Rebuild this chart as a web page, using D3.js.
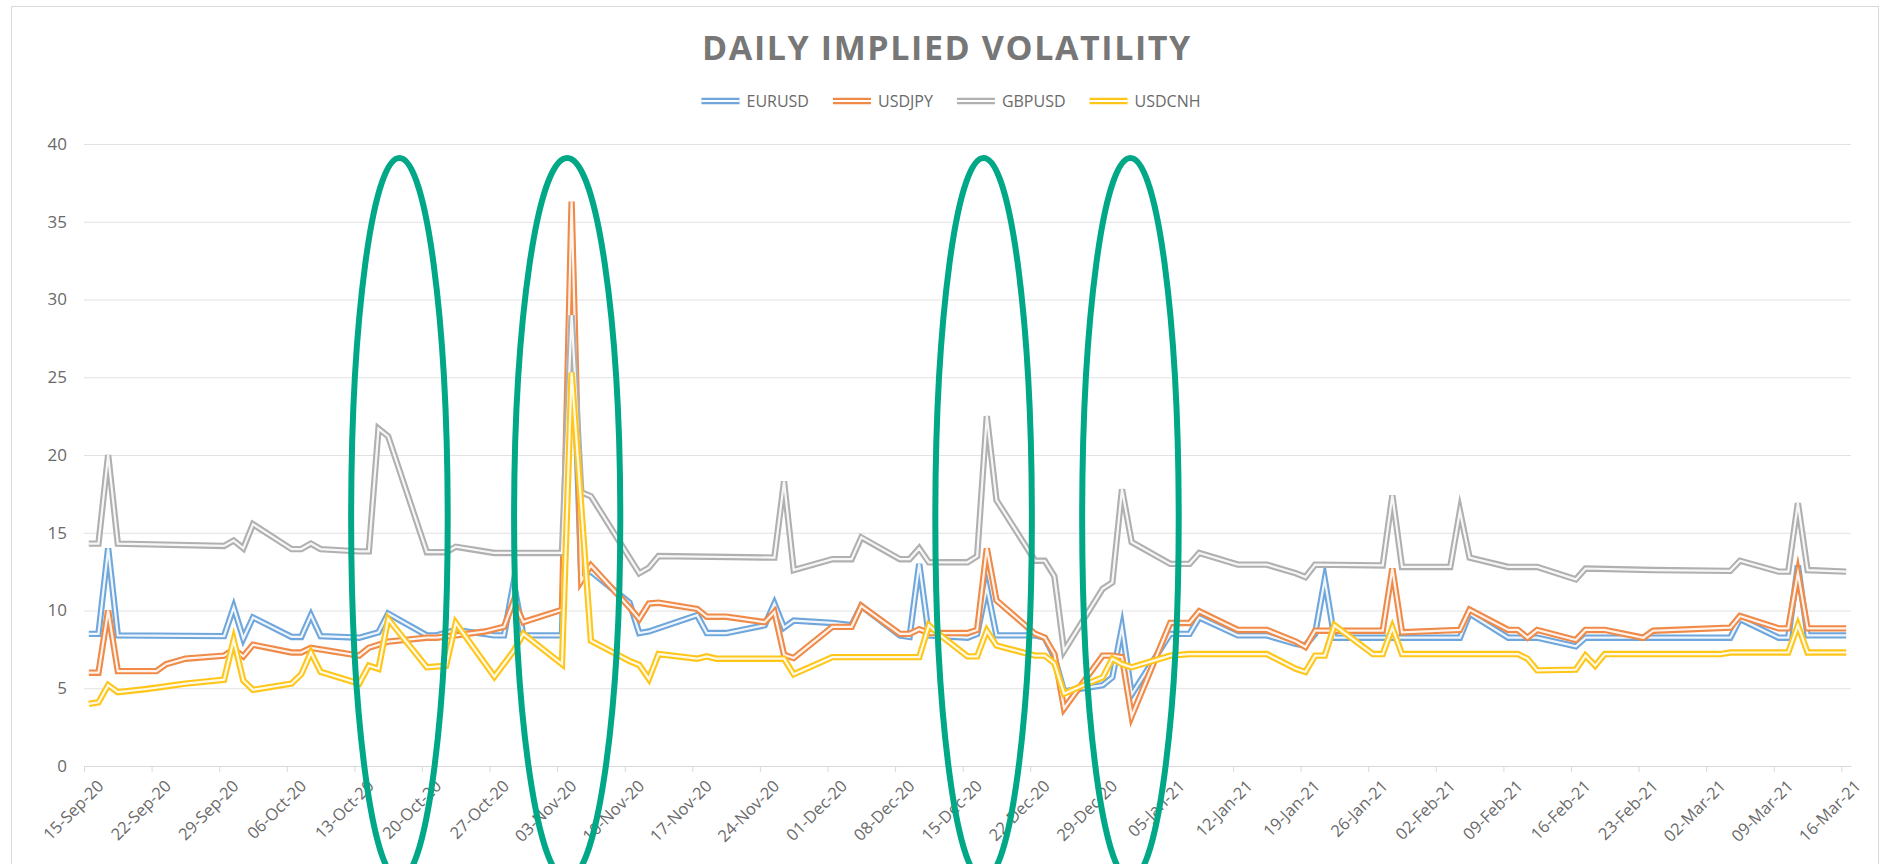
<html>

<head>
  <title>Daily Implied Volatility</title>
  <script src="https://d3js.org/d3.v7.min.js"></script>

  <style>
    body {
      margin: 0;
      background: #fff;
    }

    text {
      font-family: "Open Sans", sans-serif;
      fill: #6a6a6a;
    }

    .gridlines line {
      stroke: #e2e2e2;
    }

    .gridlines .domain {
      stroke: none;
    }

    .x.axis .domain,
    .x.axis line {
      stroke: #d9d9d9;
    }

    .y.axis .domain {
      stroke: none;
    }

    .frame {
      fill: none;
      stroke: #d9d9d9;
    }

    .ring {
      fill: none;
      stroke: #00a887;
      stroke-width: 6;
    }
  </style>
</head>

<body>
  <svg id="chart" width="1889" height="864"></svg>

  <script>
    // series: [date, implied vol]
    const eurusd = [
      ["15-Sep-20", 8.5], ["16-Sep-20", 8.5], ["17-Sep-20", 14.0], ["18-Sep-20", 8.4], ["29-Sep-20", 8.35],
      ["30-Sep-20", 10.2], ["01-Oct-20", 8.2], ["02-Oct-20", 9.55], ["06-Oct-20", 8.3], ["07-Oct-20", 8.3],
      ["08-Oct-20", 9.7], ["09-Oct-20", 8.35], ["13-Oct-20", 8.25], ["15-Oct-20", 8.6], ["16-Oct-20", 9.8],
      ["20-Oct-20", 8.4], ["21-Oct-20", 8.4], ["23-Oct-20", 8.75], ["27-Oct-20", 8.4], ["28-Oct-20", 8.4],
      ["29-Oct-20", 11.8], ["30-Oct-20", 8.4], ["03-Nov-20", 8.4], ["04-Nov-20", 30.0], ["05-Nov-20", 12.25],
      ["06-Nov-20", 12.5], ["10-Nov-20", 10.5], ["11-Nov-20", 8.55], ["12-Nov-20", 8.65], ["17-Nov-20", 9.7],
      ["18-Nov-20", 8.55], ["20-Nov-20", 8.55], ["24-Nov-20", 9.05], ["25-Nov-20", 10.45], ["26-Nov-20", 8.9],
      ["27-Nov-20", 9.35], ["01-Dec-20", 9.2], ["03-Dec-20", 9.05], ["04-Dec-20", 10.3], ["08-Dec-20", 8.4],
      ["09-Dec-20", 8.3], ["10-Dec-20", 13.0], ["11-Dec-20", 8.4], ["15-Dec-20", 8.25], ["16-Dec-20", 8.5],
      ["17-Dec-20", 11.5], ["18-Dec-20", 8.4], ["22-Dec-20", 8.4], ["23-Dec-20", 8.25], ["24-Dec-20", 7.0],
      ["25-Dec-20", 4.8], ["29-Dec-20", 5.2], ["30-Dec-20", 5.7], ["31-Dec-20", 8.9], ["01-Jan-21", 4.6],
      ["05-Jan-21", 8.5], ["07-Jan-21", 8.5], ["08-Jan-21", 9.55], ["12-Jan-21", 8.4], ["15-Jan-21", 8.4],
      ["18-Jan-21", 7.85], ["19-Jan-21", 7.75], ["20-Jan-21", 8.5], ["21-Jan-21", 12.0], ["22-Jan-21", 8.25],
      ["04-Feb-21", 8.25], ["05-Feb-21", 9.8], ["09-Feb-21", 8.25], ["12-Feb-21", 8.25], ["16-Feb-21", 7.7],
      ["17-Feb-21", 8.25], ["04-Mar-21", 8.25], ["05-Mar-21", 9.45], ["09-Mar-21", 8.25], ["10-Mar-21", 8.25],
      ["11-Mar-21", 12.9], ["12-Mar-21", 8.4], ["16-Mar-21", 8.4]
    ];

    const usdjpy = [
      ["15-Sep-20", 6.0], ["16-Sep-20", 6.0], ["17-Sep-20", 10.0], ["18-Sep-20", 6.1], ["22-Sep-20", 6.1],
      ["23-Sep-20", 6.55], ["25-Sep-20", 6.9], ["29-Sep-20", 7.1], ["30-Sep-20", 7.5], ["01-Oct-20", 7.05],
      ["02-Oct-20", 7.8], ["06-Oct-20", 7.3], ["07-Oct-20", 7.3], ["08-Oct-20", 7.6], ["13-Oct-20", 7.1],
      ["14-Oct-20", 7.6], ["16-Oct-20", 8.0], ["20-Oct-20", 8.25], ["21-Oct-20", 8.25], ["23-Oct-20", 8.4],
      ["26-Oct-20", 8.65], ["28-Oct-20", 8.95], ["29-Oct-20", 10.6], ["30-Oct-20", 9.25], ["03-Nov-20", 10.05],
      ["04-Nov-20", 36.3], ["05-Nov-20", 11.9], ["06-Nov-20", 12.9], ["10-Nov-20", 10.2], ["11-Nov-20", 9.45],
      ["12-Nov-20", 10.45], ["13-Nov-20", 10.5], ["17-Nov-20", 10.1], ["18-Nov-20", 9.6], ["20-Nov-20", 9.6],
      ["24-Nov-20", 9.25], ["25-Nov-20", 9.9], ["26-Nov-20", 7.15], ["27-Nov-20", 6.95], ["01-Dec-20", 8.95],
      ["03-Dec-20", 8.95], ["04-Dec-20", 10.3], ["08-Dec-20", 8.5], ["09-Dec-20", 8.5], ["10-Dec-20", 8.8],
      ["11-Dec-20", 8.55], ["15-Dec-20", 8.55], ["16-Dec-20", 8.75], ["17-Dec-20", 14.0], ["18-Dec-20", 10.65],
      ["22-Dec-20", 8.5], ["23-Dec-20", 8.25], ["24-Dec-20", 7.2], ["25-Dec-20", 3.7], ["29-Dec-20", 7.1],
      ["30-Dec-20", 7.1], ["31-Dec-20", 7.0], ["01-Jan-21", 3.2], ["05-Jan-21", 9.2], ["07-Jan-21", 9.2],
      ["08-Jan-21", 9.95], ["12-Jan-21", 8.75], ["15-Jan-21", 8.75], ["18-Jan-21", 8.0], ["19-Jan-21", 7.65],
      ["20-Jan-21", 8.7], ["27-Jan-21", 8.7], ["28-Jan-21", 12.7], ["29-Jan-21", 8.6], ["04-Feb-21", 8.75],
      ["05-Feb-21", 10.05], ["09-Feb-21", 8.75], ["10-Feb-21", 8.75], ["11-Feb-21", 8.25], ["12-Feb-21", 8.75],
      ["16-Feb-21", 8.1], ["17-Feb-21", 8.75], ["19-Feb-21", 8.75], ["23-Feb-21", 8.25], ["24-Feb-21", 8.7],
      ["04-Mar-21", 8.9], ["05-Mar-21", 9.65], ["09-Mar-21", 8.85], ["10-Mar-21", 8.85], ["11-Mar-21", 12.4],
      ["12-Mar-21", 8.85], ["16-Mar-21", 8.85]
    ];

    const gbpusd = [
      ["15-Sep-20", 14.3], ["16-Sep-20", 14.3], ["17-Sep-20", 20.0], ["18-Sep-20", 14.3], ["29-Sep-20", 14.15],
      ["30-Sep-20", 14.5], ["01-Oct-20", 14.0], ["02-Oct-20", 15.55], ["06-Oct-20", 13.95], ["07-Oct-20", 13.95],
      ["08-Oct-20", 14.3], ["09-Oct-20", 13.95], ["13-Oct-20", 13.8], ["14-Oct-20", 13.8], ["15-Oct-20", 21.7],
      ["16-Oct-20", 21.2], ["20-Oct-20", 13.75], ["22-Oct-20", 13.75], ["23-Oct-20", 14.1], ["27-Oct-20", 13.7],
      ["03-Nov-20", 13.7], ["04-Nov-20", 29.0], ["05-Nov-20", 17.6], ["06-Nov-20", 17.35], ["11-Nov-20", 12.4],
      ["12-Nov-20", 12.75], ["13-Nov-20", 13.5], ["25-Nov-20", 13.4], ["26-Nov-20", 18.3], ["27-Nov-20", 12.6],
      ["01-Dec-20", 13.3], ["03-Dec-20", 13.3], ["04-Dec-20", 14.7], ["08-Dec-20", 13.3], ["09-Dec-20", 13.3],
      ["10-Dec-20", 14.0], ["11-Dec-20", 13.1], ["15-Dec-20", 13.1], ["16-Dec-20", 13.5], ["17-Dec-20", 22.5],
      ["18-Dec-20", 17.1], ["22-Dec-20", 13.2], ["23-Dec-20", 13.2], ["24-Dec-20", 12.2], ["25-Dec-20", 7.4],
      ["29-Dec-20", 11.4], ["30-Dec-20", 11.8], ["31-Dec-20", 17.8], ["01-Jan-21", 14.4], ["05-Jan-21", 13.0],
      ["07-Jan-21", 13.0], ["08-Jan-21", 13.7], ["12-Jan-21", 12.95], ["15-Jan-21", 12.95], ["18-Jan-21", 12.4],
      ["19-Jan-21", 12.15], ["20-Jan-21", 12.95], ["27-Jan-21", 12.9], ["28-Jan-21", 17.4], ["29-Jan-21", 12.8],
      ["03-Feb-21", 12.8], ["04-Feb-21", 16.4], ["05-Feb-21", 13.4], ["09-Feb-21", 12.8], ["12-Feb-21", 12.8],
      ["16-Feb-21", 12.0], ["17-Feb-21", 12.7], ["24-Feb-21", 12.6], ["04-Mar-21", 12.55], ["05-Mar-21", 13.2],
      ["09-Mar-21", 12.5], ["10-Mar-21", 12.5], ["11-Mar-21", 16.9], ["12-Mar-21", 12.6], ["16-Mar-21", 12.5]
    ];

    const usdcnh = [
      ["15-Sep-20", 4.0], ["16-Sep-20", 4.1], ["17-Sep-20", 5.2], ["18-Sep-20", 4.75], ["21-Sep-20", 4.95],
      ["25-Sep-20", 5.3], ["29-Sep-20", 5.55], ["30-Sep-20", 8.1], ["01-Oct-20", 5.5], ["02-Oct-20", 4.9],
      ["06-Oct-20", 5.3], ["07-Oct-20", 5.9], ["08-Oct-20", 7.3], ["09-Oct-20", 6.05], ["13-Oct-20", 5.3],
      ["14-Oct-20", 6.45], ["15-Oct-20", 6.25], ["16-Oct-20", 9.45], ["20-Oct-20", 6.35], ["22-Oct-20", 6.45],
      ["23-Oct-20", 9.2], ["27-Oct-20", 5.75], ["29-Oct-20", 7.4], ["30-Oct-20", 8.5], ["03-Nov-20", 6.55],
      ["04-Nov-20", 25.3], ["06-Nov-20", 8.05], ["10-Nov-20", 6.75], ["11-Nov-20", 6.5], ["12-Nov-20", 5.6],
      ["13-Nov-20", 7.2], ["17-Nov-20", 6.9], ["18-Nov-20", 7.05], ["19-Nov-20", 6.9], ["26-Nov-20", 6.9],
      ["27-Nov-20", 5.9], ["01-Dec-20", 7.0], ["10-Dec-20", 7.0], ["11-Dec-20", 9.05], ["12-Dec-20", 8.5],
      ["15-Dec-20", 7.05], ["16-Dec-20", 7.05], ["17-Dec-20", 8.7], ["18-Dec-20", 7.75], ["22-Dec-20", 7.1],
      ["23-Dec-20", 7.1], ["24-Dec-20", 6.6], ["25-Dec-20", 4.65], ["27-Dec-20", 5.2], ["29-Dec-20", 5.7],
      ["30-Dec-20", 6.9], ["31-Dec-20", 6.55], ["01-Jan-21", 6.35], ["05-Jan-21", 7.1], ["07-Jan-21", 7.2],
      ["15-Jan-21", 7.2], ["18-Jan-21", 6.25], ["19-Jan-21", 6.05], ["20-Jan-21", 7.1], ["21-Jan-21", 7.1],
      ["22-Jan-21", 9.05], ["26-Jan-21", 7.2], ["27-Jan-21", 7.2], ["28-Jan-21", 8.9], ["29-Jan-21", 7.2],
      ["10-Feb-21", 7.2], ["11-Feb-21", 6.9], ["12-Feb-21", 6.15], ["16-Feb-21", 6.2], ["17-Feb-21", 7.1],
      ["18-Feb-21", 6.45], ["19-Feb-21", 7.2], ["03-Mar-21", 7.2], ["04-Mar-21", 7.3], ["10-Mar-21", 7.3],
      ["11-Mar-21", 9.05], ["12-Mar-21", 7.3], ["16-Mar-21", 7.3]
    ];

    const seriesNames = ["EURUSD", "USDJPY", "GBPUSD", "USDCNH"];
    const seriesColors = ["#6fa7dc", "#ef8a48", "#b0b0b0", "#ffc61a"];
    const seriesData = [eurusd, usdjpy, gbpusd, usdcnh];

    const yTicks = [0, 5, 10, 15, 20, 25, 30, 35, 40];
    const dateRange = ["15-Sep-20", "17-Mar-21"];

    // highlighted event windows (centre stamp, half width in days)
    const ringCentres = ["17-Oct-20 16:00", "04-Nov-20 01:00", "17-Dec-20 04:00", "01-Jan-21 09:00"];
    const ringHalfDays = [5.0, 5.5, 5.0, 5.0];
    const ringSpan = [39.1, -7.3];

    const titleText = "DAILY IMPLIED VOLATILITY";

    //select the svg, set up margins
    const svg = d3.select("svg#chart");
    const width = +svg.attr("width");
    const height = +svg.attr("height");
    const margin = { top: 144, right: 38, bottom: 98, left: 84 };
    const chartWidth = width - margin.left - margin.right;
    const chartHeight = height - margin.top - margin.bottom;
    const centreX = 947;

    const parseDate = d3.timeParse("%d-%b-%y");
    const parseStamp = d3.timeParse("%d-%b-%y %H:%M");

    // outer chart frame
    svg.append("rect").attr("class", "frame")
      .attr("x", 11.5).attr("y", 6.5)
      .attr("width", width - 11 - margin.right + 27).attr("height", height + 20);

    let annotations = svg.append("g").attr("id", "annotations");
    let chartArea = svg.append("g").attr("id", "lines")
      .attr("transform", `translate(${margin.left},${margin.top})`);

    const xScale = d3.scaleTime().domain(dateRange.map(parseDate)).range([0, chartWidth]);
    const yScale = d3.scaleLinear().domain([0, 40]).range([chartHeight, 0]);

    // gridlines + y labels
    let leftGridlines = d3.axisLeft(yScale).tickValues(yTicks).tickSize(-chartWidth).tickFormat("");
    annotations.append("g")
      .attr("class", "y gridlines")
      .attr("transform", `translate(${margin.left},${margin.top})`)
      .call(leftGridlines);

    let leftAxis = d3.axisLeft(yScale).tickValues(yTicks).tickSize(0).tickPadding(17);
    annotations.append("g")
      .attr("class", "y axis")
      .attr("transform", `translate(${margin.left},${margin.top})`)
      .call(leftAxis)
      .selectAll("text").style("font-size", "17px");

    // weekly ticks on Tuesdays
    const weekTicks = d3.timeTuesday.range(xScale.domain()[0], xScale.domain()[1]);
    let bottomAxis = d3.axisBottom(xScale).tickValues(weekTicks)
      .tickFormat(d3.timeFormat("%d-%b-%y")).tickSizeInner(6).tickSizeOuter(0);
    annotations.append("g")
      .attr("class", "x axis")
      .attr("transform", `translate(${margin.left},${margin.top + chartHeight})`)
      .call(bottomAxis)
      .selectAll("text")
      .style("font-size", "16.5px")
      .attr("text-anchor", "end")
      .attr("x", 0).attr("y", 0).attr("dy", "0.35em")
      .attr("transform", "translate(16,17) rotate(-45)");

    // lines: points sit in the middle of their day slot, Excel style
    const line = d3.line()
      .x(d => xScale(d3.timeHour.offset(parseDate(d[0]), 12)))
      .y(d => yScale(d[1]));

    seriesData.forEach((data, i) => {
      let g = chartArea.append("g").attr("class", "series");
      g.append("path")
        .attr("d", line(data))
        .attr("fill", "none")
        .attr("stroke", seriesColors[i])
        .attr("stroke-width", 6.4)
        .attr("stroke-linejoin", "miter")
        .attr("stroke-miterlimit", 6);
      g.append("path")
        .attr("d", line(data))
        .attr("fill", "none")
        .attr("stroke", "#fff")
        .attr("stroke-width", 2.2)
        .attr("stroke-opacity", 0.9)
        .attr("stroke-linejoin", "miter")
        .attr("stroke-miterlimit", 6);
    });

    // title
    svg.append("text")
      .attr("x", centreX).attr("y", 60)
      .attr("text-anchor", "middle")
      .style("font-size", "34px").style("font-weight", "700")
      .style("letter-spacing", "1.6px")
      .style("fill", "#777")
      .text(titleText);

    // legend, laid out from measured text widths
    const legend = svg.append("g").attr("id", "legend");
    const swatch = 38, swatchGap = 7, itemGap = 24;
    let items = seriesNames.map((name, i) => {
      let g = legend.append("g");
      let t = g.append("text").attr("x", swatch + swatchGap).attr("y", 0).attr("dy", "0.35em")
        .style("font-size", "16px").text(name);
      return { g: g, w: swatch + swatchGap + t.node().getComputedTextLength(), i: i };
    });
    let total = d3.sum(items, d => d.w) + itemGap * (items.length - 1);
    let cursor = centreX + 4 - total / 2;
    items.forEach(d => {
      d.g.attr("transform", `translate(${cursor},101)`);
      d.g.insert("line", "text").attr("x1", 0).attr("x2", swatch).attr("y1", 0).attr("y2", 0)
        .attr("stroke", seriesColors[d.i]).attr("stroke-width", 6.4);
      d.g.insert("line", "text").attr("x1", 0).attr("x2", swatch).attr("y1", 0).attr("y2", 0)
        .attr("stroke", "#fff").attr("stroke-width", 2.2);
      cursor += d.w + itemGap;
    });

    // event rings on top
    const ringGroup = chartArea.append("g").attr("id", "rings");
    ringCentres.forEach((c, i) => {
      let centre = parseStamp(c);
      let cx = xScale(centre);
      let rx = xScale(d3.timeMinute.offset(centre, ringHalfDays[i] * 1440)) - cx;
      let top = yScale(ringSpan[0]), bottom = yScale(ringSpan[1]);
      ringGroup.append("ellipse").attr("class", "ring")
        .attr("cx", cx).attr("cy", (top + bottom) / 2)
        .attr("rx", rx).attr("ry", (bottom - top) / 2);
    });
  </script>
</body>

</html>
